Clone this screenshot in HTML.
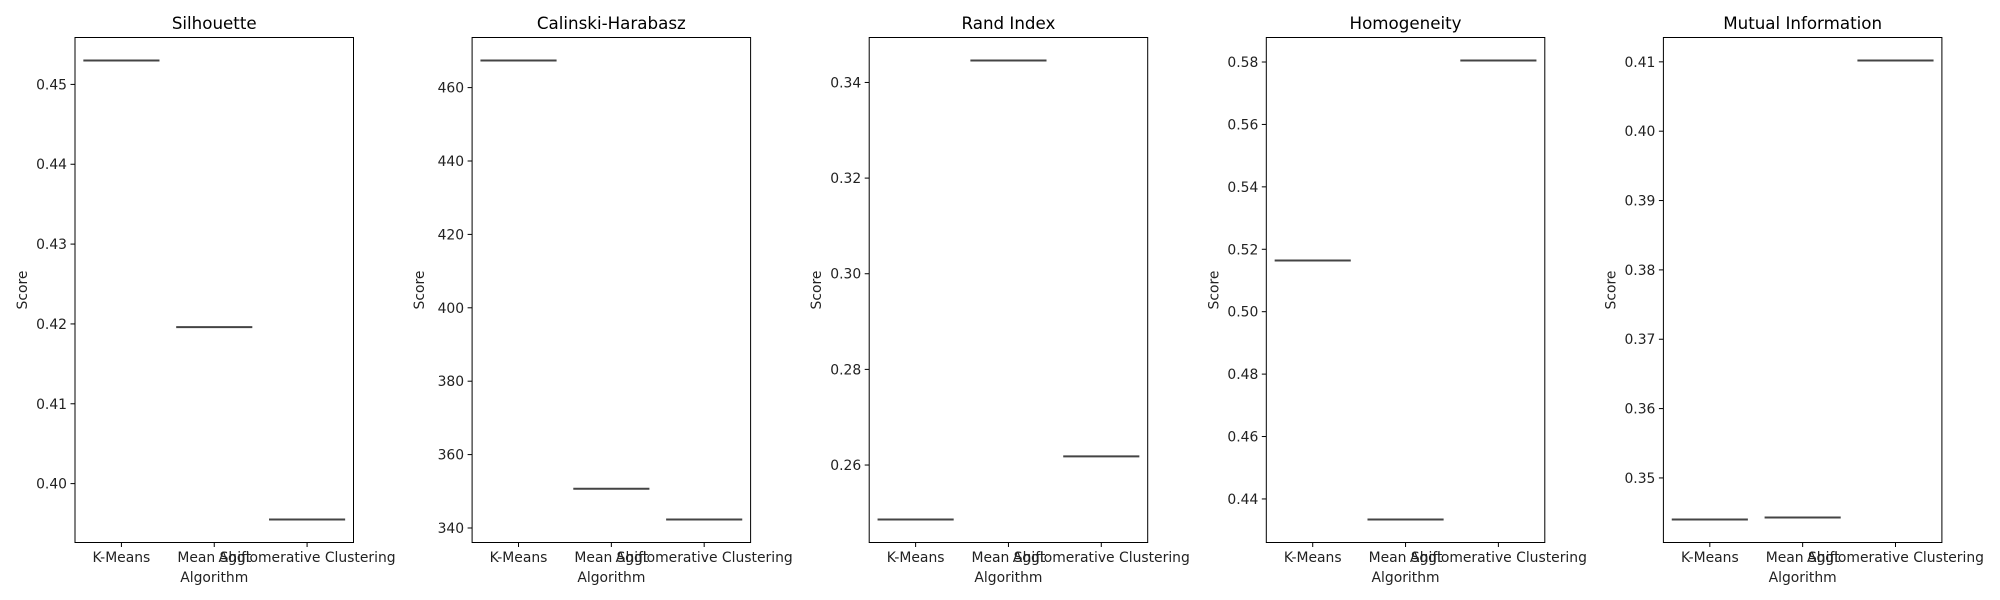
<!DOCTYPE html>
<html><head><meta charset="utf-8"><style>
body{margin:0;background:#fff;}
svg{display:block;font-family:"DejaVu Sans","Liberation Sans",sans-serif;}
</style></head><body>
<svg id="fig" width="2000" height="600" viewBox="0 0 2000 600"></svg>
<script>
const categories = ["K-Means", "Mean Shift", "Agglomerative Clustering"];
const titles = ["Silhouette", "Calinski-Harabasz", "Rand Index", "Homogeneity", "Mutual Information"];
const silhouetteValues = [0.4530, 0.4196, 0.3955];
const calinskiValues = [467.4, 350.7, 342.3];
const randValues = [0.2486, 0.3446, 0.2618];
const homogeneityValues = [0.5164, 0.4334, 0.5805];
const mutualInfoValues = [0.3440, 0.3443, 0.4102];
const silhouetteTicks = [0.40, 0.41, 0.42, 0.43, 0.44, 0.45];
const calinskiTicks = [340, 360, 380, 400, 420, 440, 460];
const randTicks = [0.26, 0.28, 0.30, 0.32, 0.34];
const homogeneityTicks = [0.44, 0.46, 0.48, 0.50, 0.52, 0.54, 0.56, 0.58];
const mutualInfoTicks = [0.35, 0.36, 0.37, 0.38, 0.39, 0.40, 0.41];
const tickDecimals = [2, 0, 2, 2, 2];
</script>
<script>
(function () {
const NS = "http://www.w3.org/2000/svg";
const svg = document.getElementById("fig");
const series = [silhouetteValues, calinskiValues, randValues, homogeneityValues, mutualInfoValues];
const ticks = [silhouetteTicks, calinskiTicks, randTicks, homogeneityTicks, mutualInfoTicks];
function mk(tag, attrs, parent) {
  const e = document.createElementNS(NS, tag);
  for (const k in attrs) e.setAttribute(k, attrs[k]);
  (parent || svg).appendChild(e);
  return e;
}
const axTop = 37.5, axBottom = 542.5, axWidth = 278.5;
series.forEach((vals, i) => {
  const left = 75 + i * 397.1;
  const g = mk("g", {});
  
  
  const mn = Math.min(...vals), mx = Math.max(...vals);
  const pad = (mx - mn) * 0.05;
  const lo = mn - pad, hi = mx + pad;
  const y = v => axBottom - (v - lo) / (hi - lo) * (axBottom - axTop);
  const slot = axWidth / 3;
  const x = k => left + slot * (k + 0.5);
  const t = mk("text", {x: left + axWidth / 2, y: 29, "text-anchor": "middle", "font-size": 16.7, fill: "#000"}, g);
  t.textContent = titles[i];
  
  
  ticks[i].forEach(tv => {
    if (tv < lo || tv > hi) return;
    const yy = y(tv);
    const tk = mk("line", {x1: left - 4.5, x2: left, y1: yy, y2: yy, stroke: "#000", "stroke-width": 1}, g);
    
    
    const tl = mk("text", {x: left - 8, y: yy + 5, "text-anchor": "end", "font-size": 13.9, fill: "#222"}, g);
    tl.textContent = tv.toFixed(tickDecimals[i]);
    
    
  });
  categories.forEach((c, k) => {
    const tk = mk("line", {x1: x(k), x2: x(k), y1: axBottom, y2: axBottom + 4.5, stroke: "#000", "stroke-width": 1}, g);
    
    
    const tl = mk("text", {x: x(k), y: 562, "text-anchor": "middle", "font-size": 13.9, fill: "#222"}, g);
    tl.textContent = c;
    
    
  });
  vals.forEach((v, k) => {
    const ln = mk("line", {x1: x(k) - slot * 0.41, x2: x(k) + slot * 0.41, y1: y(v), y2: y(v), stroke: "#444", "stroke-width": 2}, g);
    
    
  });
  const fr = mk("rect", {x: left, y: axTop, width: axWidth, height: axBottom - axTop, fill: "none", stroke: "#000", "stroke-width": 1}, g);
  
  
  const xl = mk("text", {x: left + axWidth / 2, y: 582, "text-anchor": "middle", "font-size": 13.9, fill: "#222"}, g);
  xl.textContent = "Algorithm";
  
  
  const yl = mk("text", {x: 0, y: 0, "text-anchor": "middle", "font-size": 13.9, fill: "#222", transform: "translate(" + (left - 48) + "," + ((axTop + axBottom) / 2) + ") rotate(-90)"}, g);
  yl.textContent = "Score";
  
  
});
})();
</script>
</body></html>
